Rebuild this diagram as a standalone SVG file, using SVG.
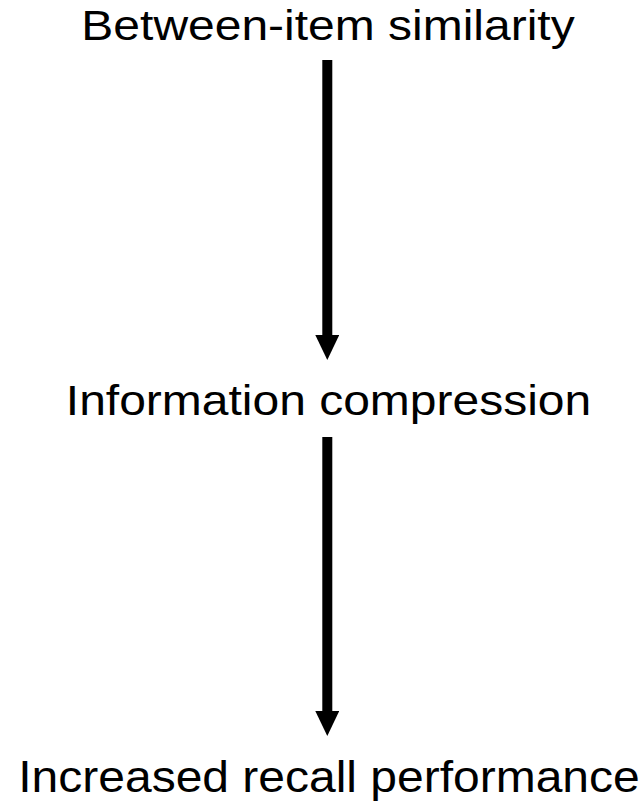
<svg xmlns="http://www.w3.org/2000/svg" width="644" height="803" viewBox="0 0 644 803">
<style>
.lbl{font-family:"Liberation Sans",Arial,sans-serif;font-size:48px;fill:#000;text-anchor:middle}
.edge{stroke:#000;stroke-width:10;fill:none}
</style>
<defs>
<marker id="ah" viewBox="0 0 25 24" refX="0" refY="12" markerWidth="25" markerHeight="24" markerUnits="userSpaceOnUse" orient="auto">
<path d="M0,0 L25,12 L0,24 Z" fill="#000"/>
</marker>
</defs>
<rect width="644" height="803" fill="#fff"/>
<g id="node-similarity"><text class="lbl" transform="translate(328,39.5) scale(1,0.89)">Between-item similarity</text></g>
<g id="node-compression"><text class="lbl" transform="translate(328.5,415) scale(1,0.89)">Information compression</text></g>
<g id="node-recall"><text class="lbl" transform="translate(329,792) scale(1,0.91)">Increased recall performance</text></g>
<g id="connectors">
<path class="edge" d="M327.3,60 L327.3,335" marker-end="url(#ah)"/>
<path class="edge" d="M327.3,437 L327.3,711" marker-end="url(#ah)"/>
</g>
</svg>
